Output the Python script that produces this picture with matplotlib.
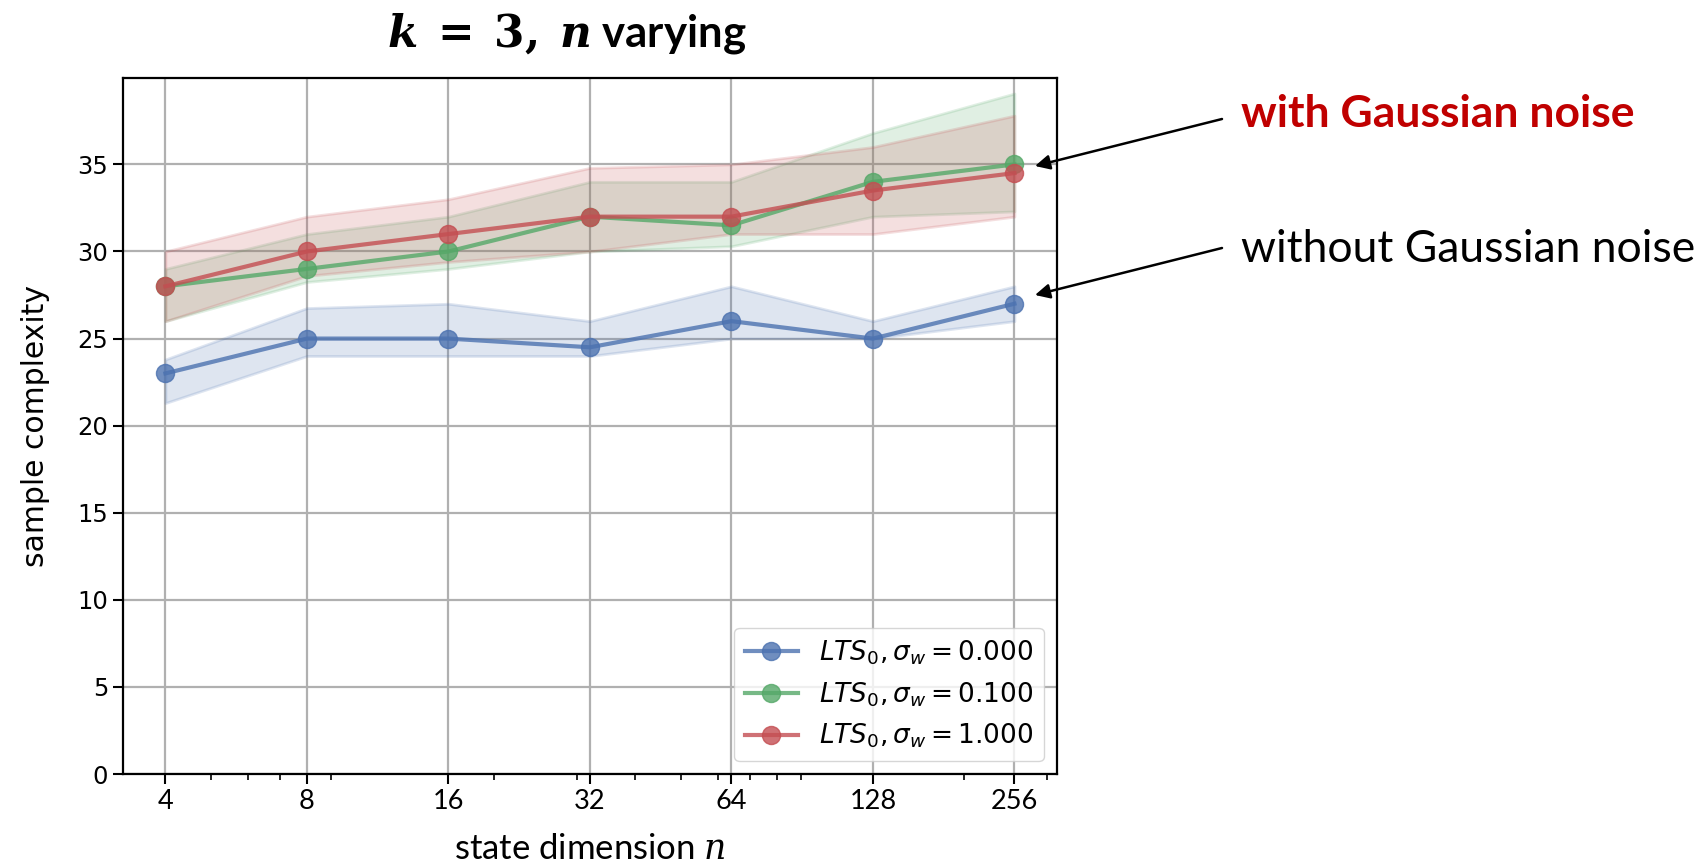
import matplotlib
matplotlib.use("Agg")
import matplotlib.pyplot as plt

# 数据
n_values = [4, 8, 16, 32, 64, 128, 256]
n_labels = ["4", "8", "16", "32", "64", "128", "256"]

mean_s0 = [23, 25, 25, 24.5, 26, 25, 27]
low_s0 = [21.3, 24.0, 24.0, 24.0, 25.0, 25.0, 26.0]
high_s0 = [23.8, 26.75, 27.0, 26.0, 28.0, 26.0, 28.0]

mean_s01 = [28, 29, 30, 32, 31.5, 34, 35]
low_s01 = [26.0, 28.25, 29.0, 30.0, 30.3, 32.0, 32.3]
high_s01 = [29.0, 31.0, 32.0, 34.0, 34.0, 36.8, 39.07]

mean_s1 = [28, 30, 31, 32, 32, 33.5, 34.5]
low_s1 = [26.0, 28.6, 29.4, 30.0, 31.0, 31.0, 32.0]
high_s1 = [30.0, 32.0, 33.0, 34.8, 35.0, 36.0, 37.8]

series_labels = [r"$LTS_0, \sigma_w = 0.000$",
                 r"$LTS_0, \sigma_w = 0.100$",
                 r"$LTS_0, \sigma_w = 1.000$"]
colors = ["#4C72B0", "#55A868", "#C44E52"]

CALIBRI_LIKE = "Lato"

fig = plt.figure(figsize=(17.03, 8.66), dpi=100)
ax = fig.add_axes([0.0722, 0.1062, 0.5484, 0.8037])

series = [
    (mean_s0, low_s0, high_s0),
    (mean_s01, low_s01, high_s01),
    (mean_s1, low_s1, high_s1),
]
for (mean, low, high), label, c in zip(series, series_labels, colors):
    ax.plot(n_values, mean, "-o", color=c, alpha=0.8, lw=3, ms=13, label=label)
    ax.fill_between(n_values, low, high, color=c, alpha=0.18, lw=2)

ax.set_xscale("log")
ax.set_xticks(n_values)
ax.set_xticklabels(n_labels, fontsize=19.5, family=CALIBRI_LIKE)
ax.set_ylim(bottom=0)
ax.tick_params(axis="y", labelsize=17.5)
ax.tick_params(which="major", length=7, width=1.5)
ax.tick_params(which="minor", length=4, width=1.2)
for s in ax.spines.values():
    s.set_linewidth(1.6)

ax.grid(True, which="major", color="#b0b0b0", lw=1.6)
ax.set_axisbelow(True)

ax.set_xlabel(r"state dimension $n$", fontsize=25, family=CALIBRI_LIKE,
              math_fontfamily="dejavuserif", labelpad=14)
ax.set_ylabel("sample complexity", fontsize=21.5, labelpad=20)

ax.legend(loc="lower right", fontsize=19)

# 标题
fig.text(567 / 1703, 1 - 33 / 866,
         r"$\mathbfit{k}\;\mathbf{=}\;\mathbf{3,}\;\mathbfit{n}$ varying",
         ha="center", va="center", fontsize=31.5, fontweight="bold",
         family=CALIBRI_LIKE, math_fontfamily="dejavuserif")

# 右侧注释
fig.text(1241 / 1703, 1 - 114 / 866, "with Gaussian noise", ha="left", va="center",
         fontsize=32, fontweight="bold", color="#C00000", family=CALIBRI_LIKE)
fig.text(1241 / 1703, 1 - 250 / 866, "without Gaussian noise", ha="left", va="center",
         fontsize=32, color="black", family=CALIBRI_LIKE)

arrow = dict(arrowstyle="-|>", color="black", lw=1.8, mutation_scale=22,
             shrinkA=0, shrinkB=0)
ax.annotate("", xy=(1035 / 1703, 1 - 166 / 866), xycoords="figure fraction",
            xytext=(1222 / 1703, 1 - 119 / 866), textcoords="figure fraction",
            arrowprops=arrow, annotation_clip=False)
ax.annotate("", xy=(1035 / 1703, 1 - 295 / 866), xycoords="figure fraction",
            xytext=(1222 / 1703, 1 - 248 / 866), textcoords="figure fraction",
            arrowprops=arrow, annotation_clip=False)

fig.savefig("out.png", dpi=100)
plt.close(fig)
